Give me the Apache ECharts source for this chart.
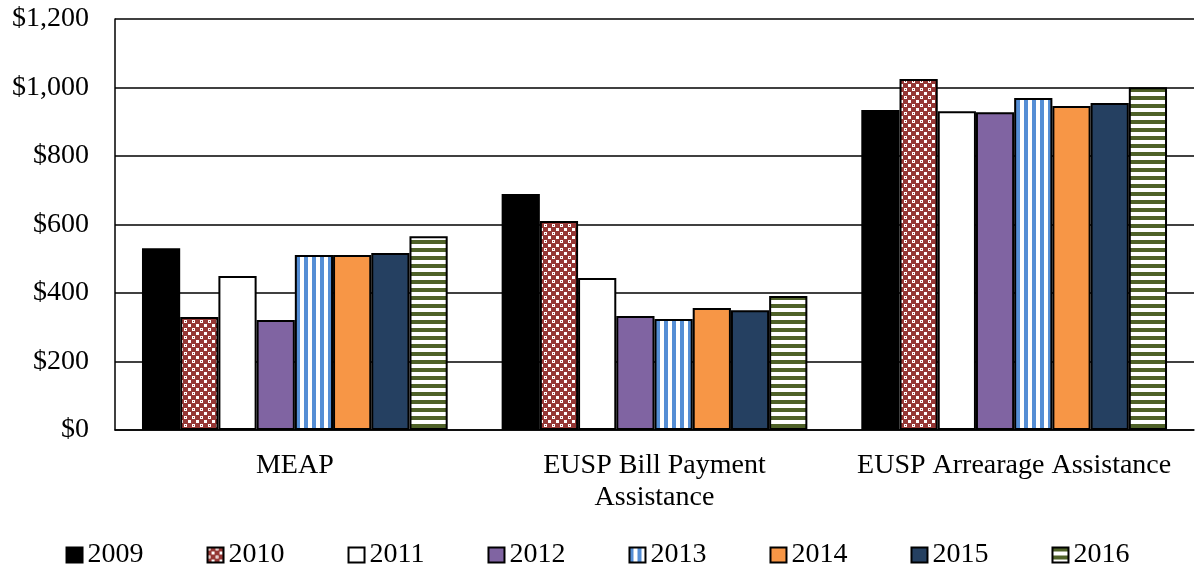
<!DOCTYPE html>
<html>
<head>
<meta charset="utf-8">
<script src="https://cdn.jsdelivr.net/npm/echarts@6/dist/echarts.min.js"></script>
<style>
  html, body { margin: 0; padding: 0; background: #fff; }
  #chart { width: 1195px; height: 569px; }
</style>
</head>
<body>
<div id="chart"></div>
<script>
// data
const categories = ['MEAP', 'EUSP Bill Payment\nAssistance', 'EUSP Arrearage Assistance'];
const years = ['2009', '2010', '2011', '2012', '2013', '2014', '2015', '2016'];
const v2009 = [531, 689, 934];
const v2010 = [330, 610, 1025];
const v2011 = [450, 444, 931];
const v2012 = [321, 333, 928];
const v2013 = [511, 324, 969];
const v2014 = [511, 356, 946];
const v2015 = [517, 350, 955];
const v2016 = [566, 391, 1001];
const yTicks = [0, 200, 400, 600, 800, 1000, 1200];

// small tile patterns
function tile(w, h, draw) {
  const c = document.createElement('canvas');
  c.width = w; c.height = h;
  draw(c.getContext('2d'));
  return { image: c, repeat: 'repeat' };
}
const checker = tile(8, 8, g => {
  g.fillStyle = '#953735'; g.fillRect(0, 0, 8, 8);
  g.fillStyle = '#fff';
  g.fillRect(0, 0, 3, 3); g.fillRect(4, 4, 3, 3);
  g.fillStyle = '#953735'; g.fillRect(1, 1, 1, 1);
});
const vStripe = tile(8, 8, g => {
  g.fillStyle = '#fff'; g.fillRect(0, 0, 8, 8);
  g.fillStyle = '#558ED5'; g.fillRect(0, 0, 4, 8);
});
const hStripe = tile(8, 8, g => {
  g.fillStyle = '#fff'; g.fillRect(0, 0, 8, 8);
  g.fillStyle = '#4F6228'; g.fillRect(0, 0, 8, 4);
});

const fills = ['#000000', checker, '#ffffff', '#8064A2', vStripe, '#F79646', '#254061', hStripe];
const values = [v2009, v2010, v2011, v2012, v2013, v2014, v2015, v2016];

const font = '"Liberation Serif", "Times New Roman", serif';

const series = years.map((y, i) => ({
  name: y,
  type: 'bar',
  data: values[i],
  barGap: '0%',
  barCategoryGap: '15%',
  itemStyle: { color: fills[i], borderColor: '#000', borderWidth: 2 }
}));

const chart = echarts.init(document.getElementById('chart'));
chart.setOption({
  animation: false,
  textStyle: { fontFamily: font },
  grid: { left: 115, right: 1, top: 19, bottom: 139 },
  legend: {
    data: years,
    icon: 'rect',
    top: 536,
    left: 'center',
    itemWidth: 16,
    itemHeight: 15,
    itemGap: 63,
    itemStyle: { borderColor: '#000', borderWidth: 2 },
    textStyle: { fontFamily: font, fontSize: 28, color: '#000' }
  },
  xAxis: {
    type: 'category',
    data: categories,
    axisLine: { lineStyle: { color: '#000', width: 1.5 } },
    axisTick: { show: false },
    axisLabel: { interval: 0, fontFamily: font, fontSize: 28, color: '#000', margin: 20, lineHeight: 32 }
  },
  yAxis: {
    type: 'value',
    min: 0,
    max: 1200,
    interval: 200,
    axisLine: { show: true, lineStyle: { color: '#000', width: 1.5 } },
    axisTick: { show: false },
    splitLine: { lineStyle: { color: '#000', width: 1.5 } },
    axisLabel: {
      fontFamily: font, fontSize: 28, color: '#000', margin: 26,
      formatter: v => yTicks.includes(v) ? '$' + v.toLocaleString('en-US') : ''
    }
  },
  series: series
});
</script>
</body>
</html>
